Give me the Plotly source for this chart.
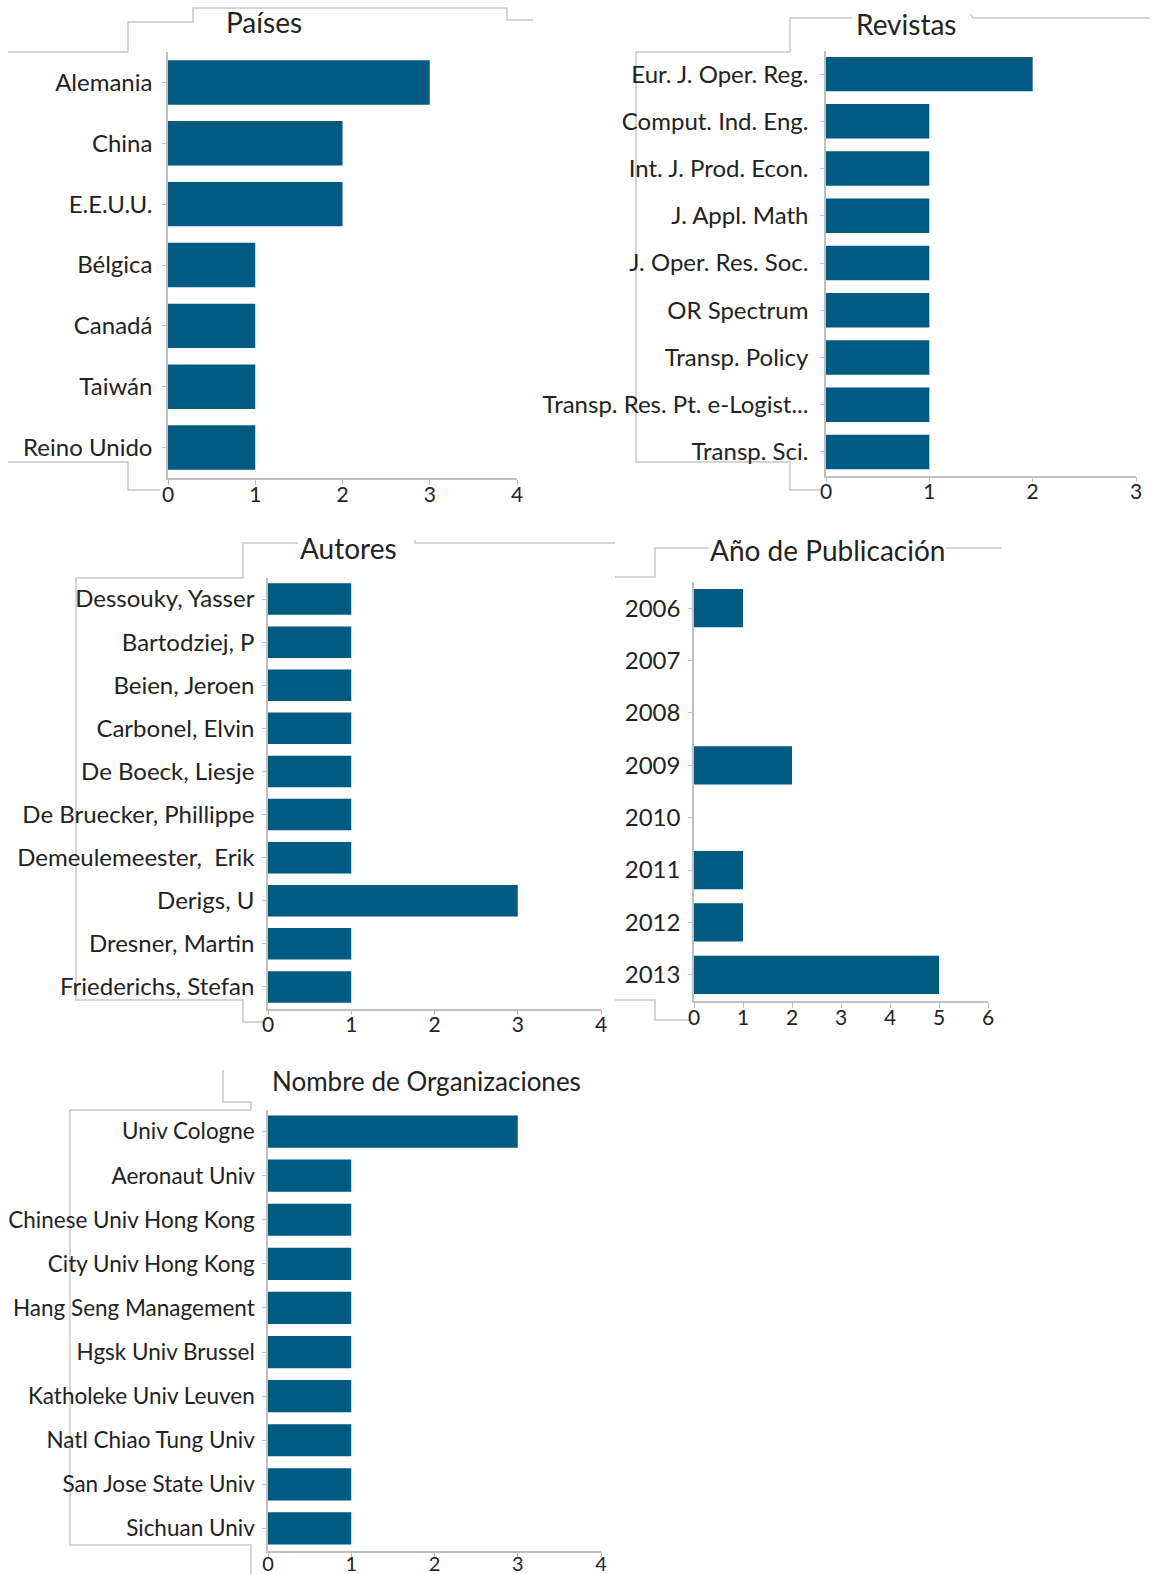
import plotly.graph_objects as go

# Page (browser window) size; the page body margin is removed by a post script
PW, PH = 1157, 1574
OFF = 0
FW, FH = PW - 2 * OFF, PH - 2 * OFF

# ---- data ----
paises = ["Alemania", "China", "E.E.U.U.", "Bélgica", "Canadá", "Taiwán", "Reino Unido"]
paises_vals = [3, 2, 2, 1, 1, 1, 1]

revistas = ["Eur. J. Oper. Reg.", "Comput. Ind. Eng.", "Int. J. Prod. Econ.", "J. Appl. Math",
            "J. Oper. Res. Soc.", "OR Spectrum", "Transp. Policy",
            "Transp. Res. Pt. e-Logist...", "Transp. Sci."]
revistas_vals = [2, 1, 1, 1, 1, 1, 1, 1, 1]

autores = ["Dessouky, Yasser", "Bartodziej, P", "Beien, Jeroen", "Carbonel, Elvin",
           "De Boeck, Liesje", "De Bruecker, Phillippe", "Demeulemeester,  Erik",
           "Derigs, U", "Dresner, Martin", "Friederichs, Stefan"]
autores_vals = [1, 1, 1, 1, 1, 1, 1, 3, 1, 1]

anios = ["2006", "2007", "2008", "2009", "2010", "2011", "2012", "2013"]
anios_vals = [1, 0, 0, 2, 0, 1, 1, 5]

orgs = ["Univ Cologne", "Aeronaut Univ", "Chinese Univ Hong Kong", "City Univ Hong Kong",
        "Hang Seng Management", "Hgsk Univ Brussel", "Katholeke Univ Leuven",
        "Natl Chiao Tung Univ", "San Jose State Univ", "Sichuan Univ"]
orgs_vals = [3, 1, 1, 1, 1, 1, 1, 1, 1, 1]

titles = ["Países", "Revistas", "Autores", "Año de Publicación", "Nombre de Organizaciones"]
xmax = [4, 3, 4, 6, 4]

# ---- layout geometry (page pixels) ----
panels = [
    dict(cats=paises, vals=paises_vals, x=(168, 517), y=(52, 478), title_xy=(264, 22), tsize=28,
         lsize=24, stand=5, xsize=21, xstand=-8),
    dict(cats=revistas, vals=revistas_vals, x=(826, 1136), y=(50.5, 475.5), title_xy=(906, 24), tsize=28,
         lsize=24, stand=7, xsize=21, xstand=-8),
    dict(cats=autores, vals=autores_vals, x=(268, 601), y=(577.5, 1008.5), title_xy=(348, 548), tsize=28,
         lsize=24, stand=3, xsize=21, xstand=-8),
    dict(cats=anios, vals=anios_vals, x=(694, 988), y=(582, 1001), title_xy=(827, 550), tsize=28,
         lsize=24, stand=3, xsize=21, xstand=-8),
    dict(cats=orgs, vals=orgs_vals, x=(268, 601), y=(1109.5, 1550.5), title_xy=(426, 1081), tsize=26,
         lsize=22.5, stand=3, xsize=20, xstand=-10),
]

# light-gray frame fragments visible around the panels (page pixels)
frames = [
    [(8, 52), (128, 52), (128, 22), (193, 22), (193, 8), (507, 8), (507, 20), (533, 20)],
    [(8, 462), (128, 462), (128, 490), (160, 490)],
    [(636, 52), (790, 52), (790, 18), (852, 18)],
    [(970, 14), (973, 18), (1150, 18)],
    [(636, 52), (636, 462), (790, 462), (790, 490), (820, 490)],
    [(76, 578), (243, 578), (243, 543), (298, 543)],
    [(415, 540), (415, 543), (615, 543)],
    [(76, 578), (76, 1000), (243, 1000), (243, 1022), (263, 1022)],
    [(615, 577), (655, 577), (655, 548), (708, 548)],
    [(946, 548), (1002, 548)],
    [(615, 1000), (655, 1000), (655, 1020), (690, 1020)],
    [(223, 1070), (223, 1102), (251, 1102), (251, 1110)],
    [(70, 1110), (251, 1110)],
    [(70, 1110), (70, 1545), (251, 1545), (251, 1574)],
]

BAR = "#005A82"
AX = "#BFBFBF"
FR = "#C8C8C8"
TXT = "#222222"
FONT = "Lato"


def xp(x):
    return (x - OFF) / FW


def yp(y):
    return 1 - (y - OFF) / FH


fig = go.Figure()
layout = dict(width=FW, height=FH, margin=dict(l=0, r=0, t=0, b=0), template="none",
              paper_bgcolor="white", plot_bgcolor="white", showlegend=False,
              font=dict(family=FONT, color=TXT), annotations=[], shapes=[])

for i, p in enumerate(panels):
    n = i + 1
    xa = "x" if n == 1 else f"x{n}"
    ya = "y" if n == 1 else f"y{n}"
    fig.add_trace(go.Bar(x=p["vals"], y=p["cats"], orientation="h",
                         marker=dict(color=BAR, line=dict(width=0)),
                         xaxis=xa, yaxis=ya, hoverinfo="x+y"))
    nc = len(p["cats"])
    layout["xaxis" if n == 1 else f"xaxis{n}"] = dict(
        domain=[xp(p["x"][0]), xp(p["x"][1])], anchor=ya, range=[0, xmax[i]], dtick=1,
        showgrid=False, zeroline=False, showline=True, linecolor=AX, linewidth=1.5,
        ticks="outside", ticklen=5, tickcolor=AX, ticklabelstandoff=p["xstand"],
        tickfont=dict(size=p["xsize"], color=TXT, family=FONT),
        automargin=False, fixedrange=True)
    layout["yaxis" if n == 1 else f"yaxis{n}"] = dict(
        domain=[yp(p["y"][1]), yp(p["y"][0])], anchor=xa, type="category",
        categoryorder="array", categoryarray=p["cats"], range=[nc - 0.5, -0.5],
        showgrid=False, zeroline=False, showline=True, linecolor=AX, linewidth=1.5,
        ticks="outside", ticklen=4, tickcolor=AX, ticklabelstandoff=p["stand"],
        tickfont=dict(size=p["lsize"], color=TXT, family=FONT), automargin=False, fixedrange=True)
    layout["annotations"].append(dict(
        text=titles[i], x=xp(p["title_xy"][0]), y=yp(p["title_xy"][1]), xref="paper", yref="paper",
        xanchor="center", yanchor="middle", showarrow=False,
        font=dict(size=p["tsize"], color=TXT, family=FONT)))

for pts in frames:
    path = "M " + " L ".join(f"{xp(x):.5f},{yp(y):.5f}" for x, y in pts)
    layout["shapes"].append(dict(type="path", path=path, xref="paper", yref="paper",
                                 line=dict(color=FR, width=1.5), layer="below"))

layout["bargap"] = 0.27
fig.update_layout(**layout)
fig.write_html("out.html", config={"displayModeBar": False},
               post_script="document.body.style.margin='0';document.body.style.overflow='hidden';")
